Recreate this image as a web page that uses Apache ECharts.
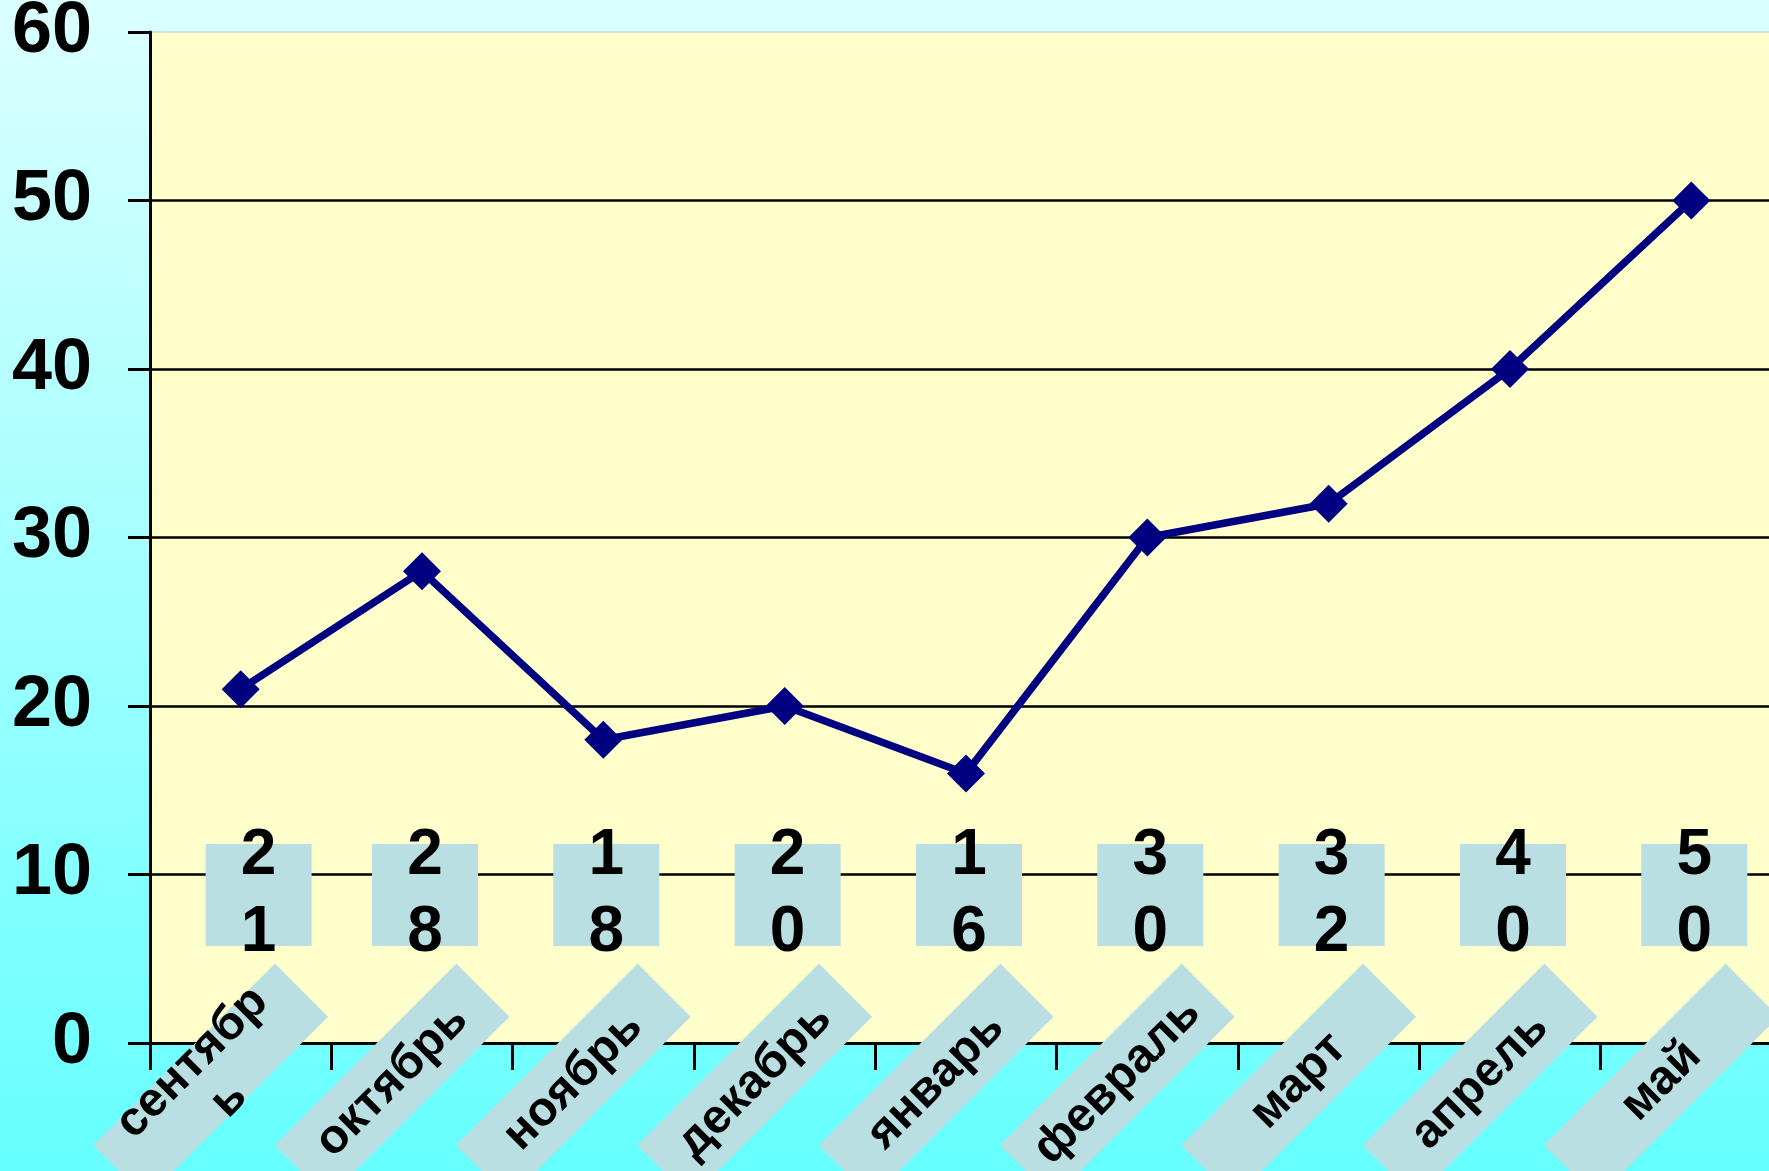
<!DOCTYPE html>
<html>
<head>
<meta charset="utf-8">
<script src="https://cdn.jsdelivr.net/npm/echarts@6/dist/echarts.min.js"></script>
<style>
  html, body { margin: 0; padding: 0; }
  #chart { width: 1769px; height: 1171px; }
</style>
</head>
<body>
<div id="chart"></div>
<script>
// ---- data ----
const categories = ['сентябрь', 'октябрь', 'ноябрь', 'декабрь', 'январь', 'февраль', 'март', 'апрель', 'май'];
const tickLabels = ['сентябр\nь', 'октябрь', 'ноябрь', 'декабрь', 'январь', 'февраль', 'март', 'апрель', 'май'];
const values = [21, 28, 18, 20, 16, 30, 32, 40, 50];
const yTicks = [0, 10, 20, 30, 40, 50, 60];

const FONT = '"Liberation Sans", Arial, sans-serif';
const BOX = '#badfe3';

const chart = echarts.init(document.getElementById('chart'));
chart.setOption({
  animation: false,
  backgroundColor: new echarts.graphic.LinearGradient(0, 0, 0, 1, [
    { offset: 0, color: '#dcffff' },
    { offset: 1, color: '#66ffff' }
  ]),
  grid: {
    left: 150, top: 32, width: 1632, bottom: 128,
    outerBoundsMode: 'none', containLabel: false,
    show: true, backgroundColor: '#ffffcc', borderColor: '#b4ccd4', borderWidth: 1
  },
  xAxis: {
    type: 'category',
    data: categories,
    boundaryGap: true,
    axisLine: { show: true, lineStyle: { color: '#000', width: 3 } },
    axisTick: { show: true, length: 27, lineStyle: { color: '#000', width: 3 } },
    axisLabel: { show: false },
    splitLine: { show: false }
  },
  yAxis: {
    type: 'value',
    min: yTicks[0], max: yTicks[yTicks.length - 1], interval: 10,
    axisLine: { show: true, lineStyle: { color: '#000', width: 3 } },
    axisTick: { show: true, length: 22, lineStyle: { color: '#000', width: 3 } },
    axisLabel: {
      color: '#000', fontFamily: FONT, fontWeight: 'bold', fontSize: 72, margin: 58
    },
    splitLine: {
      show: true,
      lineStyle: { color: ['transparent', '#000', '#000', '#000', '#000', '#000', 'transparent'], width: 2.5 }
    }
  },
  series: [
    {
      type: 'line',
      data: values,
      symbol: 'diamond',
      symbolSize: 38,
      lineStyle: { color: '#000080', width: 7.5 },
      itemStyle: { color: '#000080' },
      z: 5
    },
    {
      type: 'custom',
      data: values.map((v, i) => [i, v]),
      z: 4,
      renderItem: function (params, api) {
        const idx = api.value(0);
        const val = api.value(1);
        const base = api.coord([idx, 0]);
        const cx = base[0], ay = base[1];
        const vx = cx + (idx === 0 ? 18 : 3), vy = ay - 148;
        const gx = cx - 30, gy = ay + 38;
        return {
          type: 'group',
          children: [
            { type: 'rect', shape: { x: vx - 53, y: vy - 51, width: 106, height: 102 }, style: { fill: BOX } },
            { type: 'text', x: vx, y: vy, style: {
                text: String(val).split('').join('\n'),
                font: 'bold 64px ' + FONT, lineHeight: 77,
                fill: '#000', align: 'center', verticalAlign: 'middle' } },
            { type: 'group', x: gx, y: gy, rotation: Math.PI / 4, children: [
                { type: 'rect', shape: { x: -128.5, y: -37.5, width: 257, height: 75 }, style: { fill: BOX } },
                { type: 'text', x: 0, y: 0, style: {
                    text: tickLabels[idx],
                    font: 'bold 48px ' + FONT, lineHeight: 52,
                    fill: '#000', align: 'center', verticalAlign: 'middle' } }
              ] }
          ]
        };
      }
    }
  ]
});
</script>
</body>
</html>
